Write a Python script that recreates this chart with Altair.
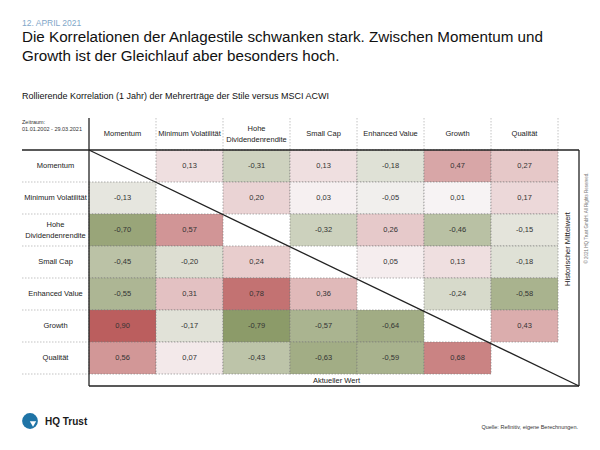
import altair as alt
import pandas as pd

# ---- data ----
styles = ["Momentum", "Minimum Volatilität", "Hohe Dividendenrendite", "Small Cap",
          "Enhanced Value", "Growth", "Qualität"]
style_labels = ["Momentum", "Minimum Volatilität", "Hohe|Dividendenrendite", "Small Cap",
                "Enhanced Value", "Growth", "Qualität"]
# rows x columns; upper triangle = historischer Mittelwert, lower = aktueller Wert
corr = [
    [None, 0.13, -0.31, 0.13, -0.18, 0.47, 0.27],
    [-0.13, None, 0.20, 0.03, -0.05, 0.01, 0.17],
    [-0.70, 0.57, None, -0.32, 0.26, -0.46, -0.15],
    [-0.45, -0.20, 0.24, None, 0.05, 0.13, -0.18],
    [-0.55, 0.31, 0.78, 0.36, None, -0.24, -0.58],
    [0.90, -0.17, -0.79, -0.57, -0.64, None, 0.43],
    [0.56, 0.07, -0.43, -0.63, -0.59, 0.68, None],
]

date_text = "12. APRIL 2021"
title_lines = ["Die Korrelationen der Anlagestile schwanken stark. Zwischen Momentum und",
               "Growth ist der Gleichlauf aber besonders hoch."]
subtitle = "Rollierende Korrelation (1 Jahr) der Mehrerträge der Stile versus MSCI ACWI"
period_lines = ["Zeitraum:", "01.01.2002 - 29.03.2021"]
hist_label = "Historischer Mittelwert"
curr_label = "Aktueller Wert"
source_text = "Quelle: Refinitiv, eigene Berechnungen."
copyright_text = "© 2021 HQ Trust GmbH. All Rights Reserved."
brand = "HQ Trust"

FONT = "Liberation Sans"
n = len(styles)
XR = n + 0.313
YB = n + 0.375

# ---- tables ----
cells = []
for r in range(n):
    for c in range(n):
        v = corr[r][c]
        if v is None:
            continue
        cells.append({"r": r, "r2": r + 1, "c": c, "c2": c + 1,
                      "rm": r + 0.5, "cm": c + 0.5, "v": v,
                      "lbl": f"{v:.2f}".replace(".", ",")})
cells = pd.DataFrame(cells)

xs = alt.Scale(domain=[-1, XR], nice=False, zero=False)
ys = alt.Scale(domain=[-1, YB], nice=False, zero=False, reverse=True)

def X(f):
    return alt.X(f, type="quantitative", scale=xs, axis=None)

def Y(f):
    return alt.Y(f, type="quantitative", scale=ys, axis=None)

color = alt.Color("v:Q", legend=None,
                  scale=alt.Scale(domain=[-0.8, 0, 0.9], interpolate="rgb",
                                  range=["#8b9a67", "#f8f5f6", "#bb5e5e"]))

rects = alt.Chart(cells).mark_rect(stroke="#7a7a7a", strokeWidth=0.6,
                                   strokeDash=[1.5, 1.5]).encode(
    x=X("c"), x2="c2", y=Y("r"), y2="r2", color=color)

vals = alt.Chart(cells).mark_text(font=FONT, fontSize=7.5).encode(
    x=X("cm"), y=Y("rm"), text="lbl:N", color=alt.value("#333333"))

hdr = pd.DataFrame({"lab": style_labels, "pos": [i + 0.5 for i in range(n)],
                    "mid": [-0.5] * n})
hdr["multi"] = hdr["lab"].str.contains("|", regex=False)

def heads(multi, horizontal):
    d = hdr[hdr["multi"] == multi]
    m = alt.Chart(d).mark_text(font=FONT, fontSize=7.5, lineBreak="|", lineHeight=11,
                               dy=-5.5 if multi else 0)
    if horizontal:
        return m.encode(x=X("pos"), y=Y("mid"), text="lab:N", color=alt.value("#222222"))
    return m.encode(x=X("mid"), y=Y("pos"), text="lab:N", color=alt.value("#222222"))

col_heads = [heads(False, True), heads(True, True)]
row_heads = [heads(False, False), heads(True, False)]

# dotted separators in header column / row
sep = pd.DataFrame({"a": list(range(1, n + 1)), "b": [-1] * n, "e": [0] * n})
vsep = alt.Chart(sep).mark_rule(color="#9a9a9a", strokeWidth=0.6, strokeDash=[1.5, 1.5]).encode(
    x=X("a"), y=Y("b"), y2="e")
hsep = alt.Chart(sep).mark_rule(color="#9a9a9a", strokeWidth=0.6, strokeDash=[1.5, 1.5]).encode(
    y=Y("a"), x=X("b"), x2="e")

# frame lines
frame = pd.DataFrame({
    "x": [-1, 0, 0, XR, 0],
    "x2": [XR, 0, XR, XR, XR],
    "y": [0, -1, YB, 0, 0],
    "y2": [0, YB, YB, YB, YB],
})
frame_lines = alt.Chart(frame).mark_rule(color="#222222", strokeWidth=1.3).encode(
    x=X("x"), x2="x2", y=Y("y"), y2="y2")

def txt(t, x, y, size, color="#111111", align="left", weight="normal", angle=0,
        baseline="alphabetic"):
    return alt.Chart(pd.DataFrame({"t": [t]})).mark_text(
        font=FONT, fontSize=size, align=align, fontWeight=weight,
        angle=angle, baseline=baseline).encode(
        x=alt.value(x), y=alt.value(y), text="t:N", color=alt.value(color))

texts = [
    txt(date_text, 0, -92, 8.5, color="#7fa7c9"),
    txt(title_lines[0], 0, -76, 15.2),
    txt(title_lines[1], 0, -57, 15.2),
    txt(subtitle, 0, -19, 9),
    txt(period_lines[0], 0, 6, 5.5, color="#333333"),
    txt(period_lines[1], 0, 13, 5.5, color="#333333"),
    txt(curr_label, 291, 265, 7.5, color="#222222"),
    txt(hist_label, 546, 131, 7.5, color="#222222", align="center", angle=270,
        baseline="middle"),
    txt(copyright_text, 565, 100, 4.5, color="#777777", align="center", angle=270,
        baseline="middle"),
    txt(source_text, 556, 311, 5.5, color="#333333", align="right"),
    txt(brand, 23, 307, 10, color="#1a1a1a", weight="bold"),
]

logo_df = pd.DataFrame({"t": ["logo"]})
logo = alt.Chart(logo_df).mark_point(filled=True, size=250, opacity=1).encode(
    x=alt.value(8), y=alt.value(303), color=alt.value("#1f74a6"))
logo2 = alt.Chart(logo_df).mark_point(filled=True, shape="triangle-down", size=40,
                                      opacity=1).encode(
    x=alt.value(11), y=alt.value(306), color=alt.value("white"))

chart = alt.layer(rects, vals, vsep, hsep, frame_lines, *col_heads, *row_heads,
                  *texts, logo, logo2).properties(
    width=557, height=268, autosize="none",
    padding={"left": 14, "top": 110, "right": 12, "bottom": 50},
).configure_view(strokeWidth=0)

chart.save("out.html", embed_options={"renderer": "svg", "actions": False})
